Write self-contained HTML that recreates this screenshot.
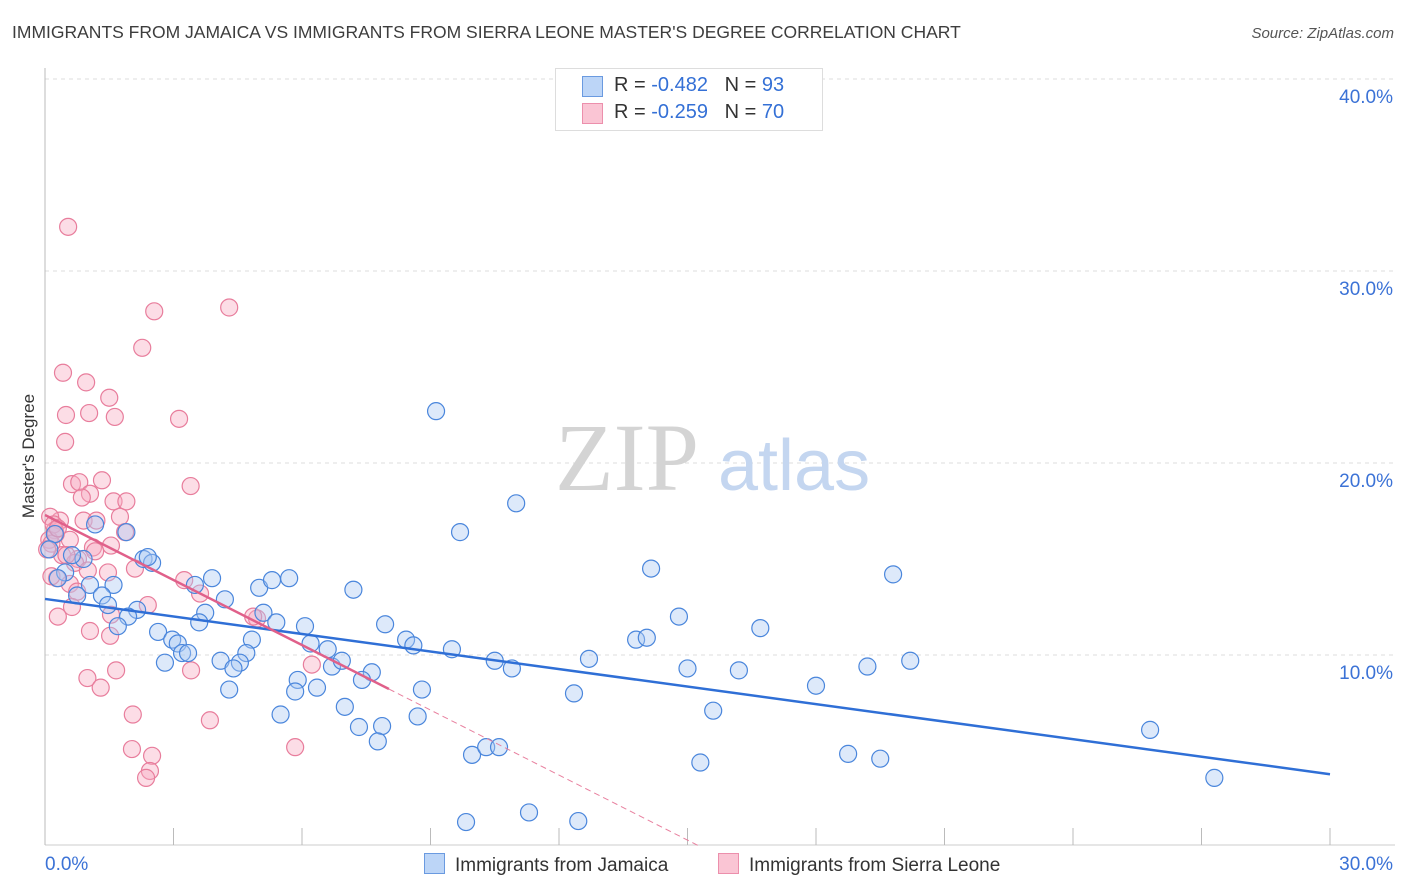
<!DOCTYPE html>
<html><head><meta charset="utf-8"><style>
body{margin:0;background:#fff;font-family:"Liberation Sans",sans-serif;}
#wrap{position:relative;width:1406px;height:892px;overflow:hidden;}
.t{position:absolute;white-space:nowrap;}
</style></head><body>
<div id="wrap">
<div class="t" style="left:12px;top:22px;font-size:17.5px;color:#3d3d3d;">IMMIGRANTS FROM JAMAICA VS IMMIGRANTS FROM SIERRA LEONE MASTER'S DEGREE CORRELATION CHART</div>
<div class="t" style="right:12px;top:25px;font-size:15px;color:#555;font-style:italic;">Source: ZipAtlas.com</div>
<svg id="chart" width="1406" height="892" style="position:absolute;left:0;top:0"></svg>
</div>
<script>
const jamX=[9.13,11.0,9.69,14.15,19.8,7.2,14.8,16.7,7.94,13.8,14.05,8.43,8.6,9.5,10.5,10.9,12.7,15.0,16.2,19.2,20.2,18.0,12.35,15.6,25.8,18.75,19.5,15.3,27.3,9.97,10.3,10.6,11.3,9.83,12.45,1.17,1.9,0.23,0.9,0.63,0.47,2.3,2.5,2.4,1.05,1.6,1.33,0.75,1.47,2.15,1.94,1.7,3.9,3.5,4.2,3.74,3.6,5.0,5.3,5.7,5.1,5.4,6.07,2.64,2.97,3.1,3.2,3.34,2.8,4.1,4.83,4.7,4.55,4.4,6.2,6.6,6.7,6.93,7.63,7.4,5.9,5.84,6.35,4.3,8.8,5.5,7.0,8.7,7.33,7.87,7.77,0.1,0.3];
const jamY=[22.7,17.9,16.4,14.5,14.2,13.4,12.0,11.4,11.6,10.8,10.9,10.8,10.5,10.3,9.7,9.3,9.8,9.3,9.2,9.4,9.7,8.4,8.0,7.1,6.1,4.85,4.6,4.4,3.6,4.8,5.2,5.2,1.8,1.3,1.35,16.8,16.4,16.3,15.0,15.2,14.3,15.0,14.8,15.1,13.65,13.65,13.1,13.1,12.6,12.35,12.0,11.5,14.0,13.65,12.9,12.2,11.7,13.5,13.9,14.0,12.2,11.7,11.5,11.2,10.8,10.6,10.1,10.1,9.6,9.7,10.8,10.1,9.6,9.3,10.6,10.3,9.4,9.7,9.1,8.7,8.7,8.1,8.3,8.2,8.2,6.9,7.3,6.8,6.25,6.3,5.5,15.5,14.0];
const sleX=[0.54,2.55,4.3,2.27,0.42,0.96,1.5,0.49,1.03,1.63,3.13,0.47,3.4,0.63,0.8,1.33,1.05,0.86,1.6,1.9,0.35,0.9,1.2,1.75,0.12,0.23,1.87,0.58,1.12,1.54,1.17,0.4,0.77,1.47,2.1,0.28,0.58,0.75,3.25,3.62,2.4,0.63,0.3,1.54,1.05,1.52,4.95,6.23,3.41,1.66,0.99,1.3,2.05,3.85,2.03,2.5,2.45,2.36,5.84,4.86,0.1,0.2,0.15,0.25,0.7,1.0,0.05,0.3,0.5,0.15];
const sleY=[32.3,27.9,28.1,26.0,24.7,24.2,23.4,22.5,22.6,22.4,22.3,21.1,18.8,18.9,19.0,19.1,18.4,18.2,18.0,18.0,17.0,17.0,17.0,17.2,17.2,16.5,16.4,16.0,15.6,15.7,15.4,15.2,15.0,14.3,14.5,14.0,13.7,13.3,13.9,13.2,12.6,12.5,12.0,12.1,11.25,11.0,11.9,9.5,9.2,9.2,8.8,8.3,6.9,6.6,5.1,4.75,3.96,3.6,5.2,12.0,16.0,16.8,15.8,16.3,14.8,14.4,15.5,16.6,15.2,14.1];
const yTicks=[10,20,30,40];
const xTickLabels=["0.0%","30.0%"];
const NS="http://www.w3.org/2000/svg";
const svg=document.getElementById('chart');
const X0=45,X1=1330,YB=847,PPY=19.2;
const sx=v=>X0+(X1-X0)*v/30;
const sy=v=>YB-v*PPY;
function mk(tag,attrs,parent){const e=document.createElementNS(NS,tag);for(const k in attrs)e.setAttribute(k,attrs[k]);(parent||svg).appendChild(e);return e;}
// gridlines and labels
yTicks.forEach(t=>{
 const g=mk('line',{x1:X0,x2:1395,y1:sy(t),y2:sy(t),stroke:'#dcdcdc','stroke-dasharray':'4,4'});
 
 
 const tx=mk('text',{x:1393,y:sy(t)+24,'text-anchor':'end','font-size':19,fill:'#3b72d6','font-family':'Liberation Sans'});
 tx.textContent=t.toFixed(1)+'%';
 
 
});
const ax=mk('line',{x1:X0,x2:X0,y1:68,y2:845,stroke:'#bbb'});


const bx=mk('line',{x1:X0,x2:1395,y1:845,y2:845,stroke:'#ccc'});


for(let i=0;i<=10;i++){const xv=i*3;const tk=mk('line',{x1:sx(xv),x2:sx(xv),y1:828,y2:845,stroke:'#bbb'});
 
 }
xTickLabels.forEach((l,i)=>{const t=mk('text',{x:i?1393:45,y:870,'text-anchor':i?'end':'start','font-size':19,fill:'#3b72d6','font-family':'Liberation Sans'});t.textContent=l;
 
 });
const yt=mk('text',{x:34,y:456,'text-anchor':'middle','font-size':17,fill:'#333','font-family':'Liberation Sans',transform:'rotate(-90 34 456)'});
yt.textContent="Master's Degree";


// watermark
const wm=mk('text',{x:555,y:490,'font-size':96,fill:'#d4d4d4','font-family':'Liberation Serif'});wm.textContent='ZIP';


const wm2=mk('text',{x:718,y:490,'font-size':72,fill:'#c4d6f0','font-family':'Liberation Sans'});wm2.textContent='atlas';


function reg(xs,ys){const n=xs.length;let mx=0,my=0;for(let i=0;i<n;i++){mx+=xs[i];my+=ys[i];}mx/=n;my/=n;let a=0,b=0;for(let i=0;i<n;i++){a+=(xs[i]-mx)*(ys[i]-my);b+=(xs[i]-mx)**2;}const s=a/b;return [s,my-s*mx];}
function dots(xs,ys,fill,stroke,name){xs.forEach((x,i)=>{const c=mk('circle',{cx:sx(x),cy:sy(ys[i]),r:8.5,fill:fill,'fill-opacity':0.4,stroke:stroke,'stroke-width':1.2});
 
 });}
dots(sleX,sleY,'#f7aac0','#e87d9c','sierra-leone-point');
dots(jamX,jamY,'#a9c8f2','#4a86dc','jamaica-point');
const [bs,bi]=reg(jamX,jamY);
const bl=mk('line',{x1:sx(0),y1:sy(bi),x2:sx(30),y2:sy(bi+bs*30),stroke:'#2f6fd6','stroke-width':2.5});


const [ps,pi]=reg(sleX,sleY);
const xmax=Math.max(...sleX)+1.8;
const pl=mk('line',{x1:sx(0),y1:sy(pi),x2:sx(xmax),y2:sy(pi+ps*xmax),stroke:'#e0608a','stroke-width':2.5});


const xz=Math.min(30,-pi/ps);
const pd=mk('line',{x1:sx(xmax),y1:sy(pi+ps*xmax),x2:sx(xz),y2:sy(pi+ps*xz),stroke:'#e8809f','stroke-width':1,'stroke-dasharray':'6,4'});


</script>
<div class="t" style="left:555px;top:68px;width:266px;height:61px;border:1px solid #ddd;background:#fff;font-size:20px;color:#333;">
 <div style="position:absolute;left:26px;top:7px;width:19px;height:19px;background:#bcd5f7;border:1px solid #6a9ae0;"></div>
 <div style="position:absolute;left:58px;top:5px;">R = <span style="color:#3470d6">-0.482</span>&nbsp;&nbsp;&nbsp;N = <span style="color:#3470d6">93</span></div>
 <div style="position:absolute;left:26px;top:34px;width:19px;height:19px;background:#fac5d4;border:1px solid #ec8fac;"></div>
 <div style="position:absolute;left:58px;top:32px;">R = <span style="color:#3470d6">-0.259</span>&nbsp;&nbsp;&nbsp;N = <span style="color:#3470d6">70</span></div>
</div>
<div class="t" style="left:424px;top:853px;font-size:19px;color:#333;"><span style="display:inline-block;width:19px;height:19px;background:#bcd5f7;border:1px solid #6a9ae0;vertical-align:-3px;margin-right:10px"></span>Immigrants from Jamaica</div>
<div class="t" style="left:718px;top:853px;font-size:19px;color:#333;"><span style="display:inline-block;width:19px;height:19px;background:#fac5d4;border:1px solid #ec8fac;vertical-align:-3px;margin-right:10px"></span>Immigrants from Sierra Leone</div>
</body></html>
